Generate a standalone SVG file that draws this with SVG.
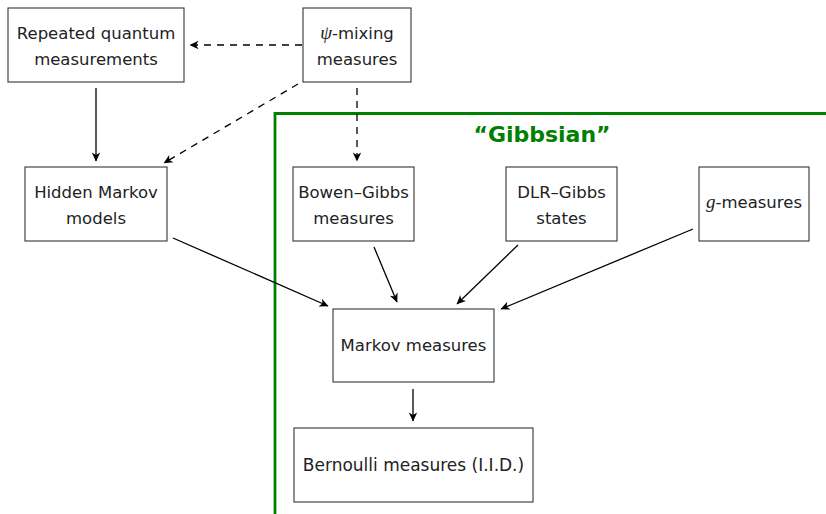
<svg xmlns="http://www.w3.org/2000/svg" width="826" height="514" viewBox="0 0 826 514">
<defs>
<style>
.box{fill:#fff;stroke:#333;stroke-width:1.1}
.t{font-family:"DejaVu Sans","Liberation Sans",sans-serif;font-size:16.5px;fill:#222;text-anchor:middle}
.m{font-family:"Liberation Serif","DejaVu Serif",serif;font-style:italic;font-size:19px}
.e{fill:none;stroke:#000;stroke-width:1.3}
.d{stroke-dasharray:7 6}
.frame{fill:none;stroke:#008000;stroke-width:2.8}
.gt{font-family:"DejaVu Sans","Liberation Sans",sans-serif;font-weight:bold;font-size:22px;fill:#008000;text-anchor:middle}
</style>
<marker id="ah" viewBox="-10 -5 11 10" refX="0" refY="0" markerWidth="11" markerHeight="10" markerUnits="userSpaceOnUse" orient="auto">
<path d="M0.5,0 L-8.5,-4.2 L-6,0 L-8.5,4.2 Z" fill="#000"/>
</marker>
</defs>
<rect width="826" height="514" fill="#fff"/>
<g id="gibbsian-frame">
<path class="frame" d="M275,514 V113.5 H826"/>
<text class="gt" x="542" y="142">“Gibbsian”</text>
</g>
<g id="connectors">
<line class="e d" x1="302" y1="45" x2="190" y2="45" marker-end="url(#ah)"/>
<line class="e d" x1="298" y1="84" x2="164" y2="163" marker-end="url(#ah)"/>
<line class="e d" x1="357" y1="88" x2="357" y2="161" marker-end="url(#ah)"/>
<line class="e" x1="96" y1="88" x2="96" y2="161" marker-end="url(#ah)"/>
<line class="e" x1="173" y1="238" x2="328" y2="306" marker-end="url(#ah)"/>
<line class="e" x1="374" y1="247" x2="397" y2="302" marker-end="url(#ah)"/>
<line class="e" x1="518" y1="245" x2="457" y2="304" marker-end="url(#ah)"/>
<line class="e" x1="693" y1="229" x2="501" y2="309" marker-end="url(#ah)"/>
<line class="e" x1="413" y1="389" x2="413" y2="421" marker-end="url(#ah)"/>
</g>
<g id="repeated-quantum">
<rect class="box" x="8" y="8" width="176" height="74"/>
<text class="t" x="96" y="39">Repeated quantum</text>
<text class="t" x="96" y="65">measurements</text>
</g>
<g id="psi-mixing">
<rect class="box" x="303" y="8" width="108" height="74"/>
<text class="t" x="357" y="39"><tspan class="m">ψ</tspan>-mixing</text>
<text class="t" x="357" y="65">measures</text>
</g>
<g id="hidden-markov">
<rect class="box" x="25" y="167" width="142" height="74"/>
<text class="t" x="96" y="198">Hidden Markov</text>
<text class="t" x="96" y="224">models</text>
</g>
<g id="bowen-gibbs">
<rect class="box" x="293" y="167" width="121" height="74"/>
<text class="t" x="353.5" y="198">Bowen–Gibbs</text>
<text class="t" x="353.5" y="224">measures</text>
</g>
<g id="dlr-gibbs">
<rect class="box" x="506" y="167" width="111" height="74"/>
<text class="t" x="561.5" y="198">DLR–Gibbs</text>
<text class="t" x="561.5" y="224">states</text>
</g>
<g id="g-measures">
<rect class="box" x="699" y="167" width="110" height="74"/>
<text class="t" x="754" y="208"><tspan class="m">g</tspan>-measures</text>
</g>
<g id="markov">
<rect class="box" x="333" y="309" width="161" height="73"/>
<text class="t" x="413.5" y="351">Markov measures</text>
</g>
<g id="bernoulli">
<rect class="box" x="294" y="428" width="239" height="74"/>
<text class="t" x="413.5" y="471" style="font-size:17px">Bernoulli measures (I.I.D.)</text>
</g>
</svg>
